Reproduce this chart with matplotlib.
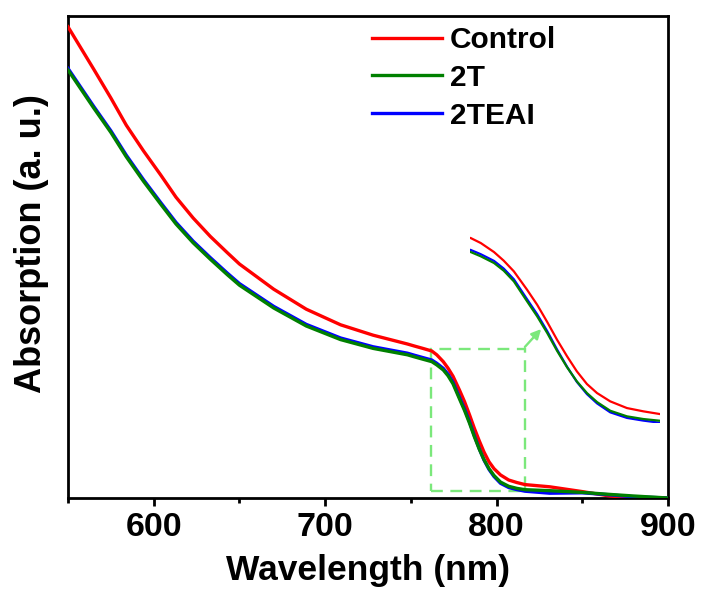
import matplotlib
matplotlib.use("Agg")
import matplotlib.pyplot as plt
from matplotlib.patches import Rectangle, FancyArrowPatch

plt.rcParams['font.family'] = ['Liberation Sans', 'DejaVu Sans']
plt.rcParams['font.weight'] = 'bold'

# ---- data ----
wavelength = [550, 565, 575, 584, 594, 604, 613, 623, 633, 643, 650, 670, 689, 709, 728,
              748, 752, 757,
              762.2, 765.1, 768.9, 771.7, 774.6, 778.4, 781.3, 784.2, 787.0, 789.9,
              792.7, 795.6, 798.5, 802.3, 807.1, 811.8, 816.6,
              831, 850, 866, 880, 900]
control = [1.178, 1.072, 1.000, 0.932, 0.868, 0.808, 0.752, 0.700, 0.654, 0.613, 0.585,
           0.522, 0.472, 0.433, 0.407, 0.385, 0.380, 0.374,
           0.3675, 0.358, 0.3409, 0.3245, 0.3043, 0.2694, 0.2409, 0.2081, 0.1747,
           0.1430, 0.1146, 0.0905, 0.0734, 0.0576, 0.0449, 0.0387, 0.0335,
           0.028, 0.016, 0.005, 0.001, 0.0]
t2 = [1.070, 0.975, 0.914, 0.853, 0.792, 0.735, 0.685, 0.638, 0.597, 0.558, 0.532,
      0.475, 0.430, 0.396, 0.374, 0.358, 0.353, 0.347,
      0.3409, 0.3328, 0.3201, 0.3055, 0.2853, 0.2474, 0.2189, 0.1872, 0.1537,
      0.1222, 0.0956, 0.0734, 0.0563, 0.0398, 0.0292, 0.0241, 0.0208,
      0.0183, 0.014, 0.009, 0.005, 0.0]
teai = [1.074, 0.979, 0.918, 0.857, 0.796, 0.739, 0.689, 0.642, 0.601, 0.562, 0.536,
        0.479, 0.434, 0.400, 0.378, 0.362, 0.357, 0.351,
        0.3449, 0.3368, 0.3241, 0.3095, 0.2893, 0.2514, 0.2229, 0.1907, 0.1562,
        0.1232, 0.0946, 0.0714, 0.0538, 0.0368, 0.0262, 0.0211, 0.0170,
        0.012, 0.013, 0.008, 0.003, 0.0]

labels = ['Control', '2T', '2TEAI']
colors = ['#ff0000', '#008000', '#0000ff']

# zoom box (data coordinates)
box_x = (762.0, 816.6)
box_y = (0.0175, 0.3725)
box_color = '#7be87b'

fig = plt.figure(figsize=(7.02, 5.99), dpi=100)
ax = fig.add_axes([68/702, 1-498/599, 600/702, 482/599])

lr, = ax.plot(wavelength, control, color=colors[0], lw=2.4, zorder=3)
lb, = ax.plot(wavelength, teai, color=colors[2], lw=2.4, zorder=3)
lg, = ax.plot(wavelength, t2, color=colors[1], lw=2.4, zorder=3)

ax.set_xlim(550, 900)
ax.set_ylim(0, 1.205)
ax.set_yticks([])
ax.set_xticks([600, 700, 800, 900])
ax.set_xticks([550, 650, 750, 850], minor=True)
ax.tick_params(axis='x', which='major', direction='out', length=6, width=2,
               labelsize=24.5, pad=4)
ax.tick_params(axis='x', which='minor', direction='out', length=3.5, width=2)
for lab in ax.get_xticklabels():
    lab.set_fontweight('bold')
for s in ax.spines.values():
    s.set_linewidth(2)

ax.set_xlabel('Wavelength (nm)', fontsize=25.5, fontweight='bold', labelpad=8)
ax.set_ylabel('Absorption (a. u.)', fontsize=26, fontweight='bold')
ax.yaxis.set_label_coords(-0.032, 0.527)

# dashed zoom box
rect = Rectangle((box_x[0], box_y[0]), box_x[1]-box_x[0], box_y[1]-box_y[0],
                 fill=False, edgecolor=box_color, lw=1.7, ls=(0, (5, 3.2)), zorder=2)
ax.add_patch(rect)

# inset
ins = fig.add_axes([470/702, 1-422.5/599, 190/702, 187.1/599])
ins.plot(wavelength, control, color=colors[0], lw=1.6)
ins.plot(wavelength, teai, color=colors[2], lw=1.6)
ins.plot(wavelength, t2, color=colors[1], lw=1.6)
ins.set_xlim(*box_x)
ins.set_ylim(*box_y)
ins.axis('off')
ins.patch.set_alpha(0)

# arrow from box corner to inset curve
arr = FancyArrowPatch((523/702, 1-349/599), (543/702, 1-327/599),
                      transform=fig.transFigure, arrowstyle='-|>', mutation_scale=14,
                      color=box_color, lw=1.7)
fig.patches.append(arr)

fig.legend([lr, lg, lb], labels, loc='upper left',
           bbox_to_anchor=(372/702, 1-26/599), frameon=False,
           handlelength=2.35, handletextpad=0.25, labelspacing=0.33,
           borderpad=0, borderaxespad=0, prop={'weight': 'bold', 'size': 21.5})

fig.savefig('out.png', dpi=100)
